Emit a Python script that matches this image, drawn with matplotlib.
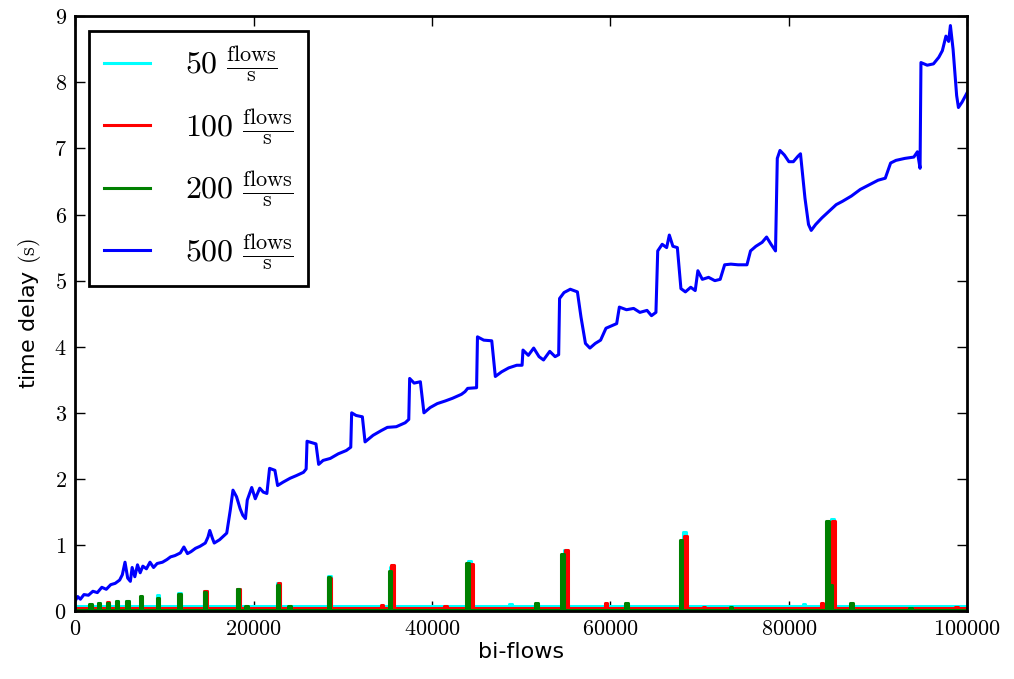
#!/usr/bin/env python3
"""Time delay vs. bi-flows for four flow rates (classic matplotlib look)."""

import matplotlib
matplotlib.use("Agg")
import matplotlib.pyplot as plt
from matplotlib.ticker import FuncFormatter, MultipleLocator

plt.rcParams["mathtext.fontset"] = "cm"
plt.rcParams["font.family"] = ["DejaVu Sans"]

# --- data -----------------------------------------------------------------
rates = [50, 100, 200, 500]
colors = ["#00ffff", "#ff0000", "#008000", "#0000ff"]

# 500 flows/s: the rising staircase
blue_x = [0, 300, 600, 1000, 1500, 2000, 2500, 3000, 3500, 4000, 4500, 5000,
          5300, 5600, 5900, 6200, 6400, 6700, 7000, 7300, 7600, 8000, 8400,
          8800, 9200, 9800, 10300, 10700, 11200, 11800, 12200, 12600, 13000,
          13500, 14000, 14600, 14900, 15100, 15400, 15600, 16200, 17000,
          17400, 17700, 18100, 18500, 18800, 19100, 19300, 19800, 20200,
          20700, 21100, 21500, 21800, 22400, 22700, 23300, 24100, 24800,
          25600, 25900, 26000, 26500, 27000, 27300, 27800, 28600, 29500,
          30400, 30900, 31000, 31500, 32200, 32500, 33400, 34300, 35000,
          36000, 37000, 37400, 37500, 38000, 38700, 39100, 39800, 40600,
          41500, 42300, 43300, 43700, 44000, 45000, 45100, 45800, 46700,
          47100, 47800, 48600, 49500, 50100, 50200, 50800, 51400, 52000,
          52500, 53200, 53800, 54200, 54300, 54800, 55500, 56300, 56700,
          57200, 57700, 58300, 58900, 59500, 60200, 60700, 61000, 61800,
          62600, 63300, 64100, 64600, 65100, 65300, 65800, 66300, 66600,
          67000, 67500, 67900, 68400, 69000, 69500, 69800, 70300, 71000,
          71700, 72300, 72800, 73500, 74300, 75300, 75700, 76300, 77000,
          77500, 78000, 78500, 78700, 79000, 79500, 80000, 80500, 81000,
          81300, 81800, 82200, 82500, 83000, 83700, 84500, 85300, 86000,
          87000, 88000, 89000, 90000, 90800, 91400, 92000, 93000, 94000,
          94400, 94700, 94800, 95500, 96200, 96800, 97200, 97600, 97900,
          98100, 98400, 98800, 99000, 99400, 99800, 100000]
blue_y = [0.15, 0.22, 0.18, 0.25, 0.24, 0.30, 0.28, 0.36, 0.33, 0.40, 0.42, 0.47,
          0.55, 0.74, 0.50, 0.45, 0.66, 0.52, 0.70, 0.58, 0.68, 0.64, 0.74,
          0.66, 0.72, 0.74, 0.78, 0.82, 0.84, 0.88, 0.97, 0.87, 0.90,
          0.95, 0.98, 1.03, 1.12, 1.22, 1.10, 1.03, 1.08, 1.18,
          1.53, 1.83, 1.73, 1.55, 1.45, 1.40, 1.68, 1.87, 1.70,
          1.86, 1.80, 1.78, 2.16, 2.13, 1.90, 1.95, 2.01, 2.05,
          2.10, 2.15, 2.57, 2.55, 2.53, 2.22, 2.28, 2.31, 2.38,
          2.43, 2.48, 3.00, 2.96, 2.94, 2.56, 2.66, 2.73, 2.78,
          2.79, 2.85, 2.90, 3.52, 3.45, 3.47, 3.00, 3.08, 3.14,
          3.18, 3.22, 3.28, 3.32, 3.37, 3.38, 4.15, 4.10, 4.09,
          3.55, 3.62, 3.68, 3.72, 3.72, 3.95, 3.87, 3.98, 3.85,
          3.80, 3.93, 3.85, 3.88, 4.73, 4.82, 4.87, 4.83, 4.45,
          4.05, 3.98, 4.05, 4.10, 4.28, 4.32, 4.35, 4.60, 4.56,
          4.58, 4.52, 4.55, 4.47, 4.52, 5.45, 5.55, 5.50, 5.69,
          5.52, 5.50, 4.88, 4.83, 4.90, 4.85, 5.15, 5.02, 5.05,
          5.00, 5.02, 5.24, 5.25, 5.24, 5.24, 5.45, 5.52, 5.58,
          5.66, 5.55, 5.45, 6.85, 6.97, 6.90, 6.80, 6.80, 6.88,
          6.92, 6.25, 5.85, 5.76, 5.85, 5.95, 6.05, 6.15, 6.20,
          6.28, 6.38, 6.45, 6.52, 6.55, 6.78, 6.82, 6.85, 6.87,
          6.95, 6.70, 8.30, 8.26, 8.28, 8.38, 8.48, 8.70, 8.62,
          8.86, 8.50, 7.80, 7.62, 7.70, 7.80, 7.85]

# 50 / 100 / 200 flows/s: flat floor with narrow spikes
cyan_base = 0.08
cyan_spike_x = [2700, 4700, 5900, 9300, 11700, 14600, 18300, 22800, 28500,
                35500, 44200, 48800, 54900, 68300, 81700, 84900]
cyan_spike_h = [0.13, 0.16, 0.15, 0.24, 0.27, 0.30, 0.33, 0.42, 0.53,
                0.66, 0.76, 0.10, 0.93, 1.20, 0.10, 1.39]

red_base = 0.04
red_spike_x = [3700, 14650, 18300, 22850, 28550, 34400, 35600, 41500, 44400,
               55100, 59500, 68400, 70500, 83700, 85000, 98800]
red_spike_h = [0.14, 0.31, 0.33, 0.43, 0.50, 0.09, 0.69, 0.07, 0.72,
               0.92, 0.13, 1.14, 0.06, 0.12, 1.37, 0.06]

green_base = 0.015
green_spike_x = [1700, 2700, 3700, 4700, 5900, 7400, 9300, 11700, 14550,
                 18250, 19200, 22750, 24000, 28450, 35300, 44000, 51700,
                 54600, 61800, 67900, 73500, 84300, 84700, 87000, 93600]
green_spike_h = [0.10, 0.12, 0.12, 0.16, 0.15, 0.23, 0.20, 0.26, 0.29,
                 0.33, 0.08, 0.39, 0.07, 0.51, 0.60, 0.73, 0.13,
                 0.87, 0.13, 1.07, 0.06, 1.37, 0.40, 0.12, 0.05]

spike_width = 300


def spike_line(base, xs, hs, width):
    """Turn a floor value plus spike list into a step-shaped polyline."""
    px, py = [0], [base]
    for x, h in sorted(zip(xs, hs)):
        px += [x - width / 2, x - width / 2, x + width / 2, x + width / 2]
        py += [base, h, h, base]
    px.append(100000)
    py.append(base)
    return px, py


fig = plt.figure(figsize=(10.14, 6.79), dpi=100)
ax = fig.add_axes([0.074, 0.100, 0.880, 0.876])

series = [
    spike_line(cyan_base, cyan_spike_x, cyan_spike_h, spike_width),
    spike_line(red_base, red_spike_x, red_spike_h, spike_width),
    spike_line(green_base, green_spike_x, green_spike_h, spike_width),
    (blue_x, blue_y),
]
for (xs, ys), rate, col in zip(series, rates, colors):
    ax.plot(xs, ys, color=col, linewidth=2.2,
            label=r"$%d\ \frac{\mathrm{flows}}{\mathrm{s}}$" % rate)

ax.set_xlim(0, 100000)
ax.set_ylim(0, 9)
ax.xaxis.set_major_locator(MultipleLocator(20000))
ax.yaxis.set_major_locator(MultipleLocator(1))
ax.xaxis.set_major_formatter(FuncFormatter(lambda v, p: r"$%d$" % v))
ax.yaxis.set_major_formatter(FuncFormatter(lambda v, p: r"$%d$" % v))
ax.tick_params(direction="in", length=7, width=1, labelsize=16,
               top=True, right=True, pad=6)
for sp in ax.spines.values():
    sp.set_linewidth(2)

ax.set_xlabel("bi-flows", fontsize=16, labelpad=2)
ax.set_ylabel(r"time delay $(\mathrm{s})$", fontsize=16, labelpad=8)

leg = ax.legend(loc="upper left", fontsize=23, handlelength=1.45,
                handletextpad=1.1, labelspacing=0.72, borderaxespad=0.45,
                borderpad=0.45, fancybox=False, framealpha=1)
leg.get_frame().set_edgecolor("black")
leg.get_frame().set_linewidth(2)

fig.savefig("out.png", dpi=100)
